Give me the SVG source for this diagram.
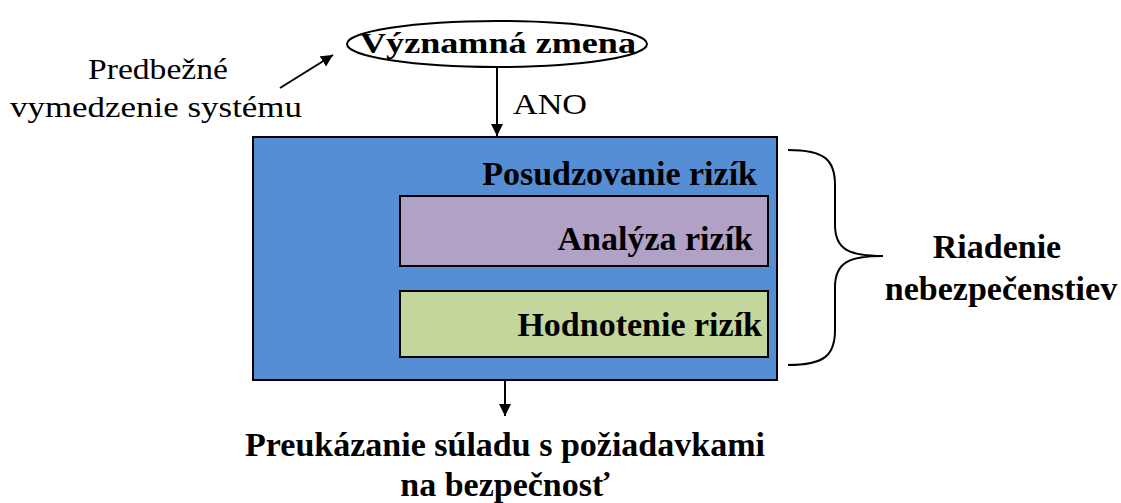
<svg xmlns="http://www.w3.org/2000/svg" width="1121" height="503" viewBox="0 0 1121 503">
<style>
text{font-family:"Liberation Serif","Times New Roman",serif;fill:#000;font-size:34px}
.b{font-weight:bold}
.r{font-size:30px}
.box{stroke:#000;stroke-width:2}
.ln{stroke:#000;stroke-width:2;fill:none}
</style>
<defs>
<marker id="ah" viewBox="0 0 10 10" refX="10" refY="5" markerWidth="6" markerHeight="6" orient="auto" markerUnits="strokeWidth">
<path d="M0,0 L10,5 L0,10 z" fill="#000"/>
</marker>
</defs>
<rect width="1121" height="503" fill="#fff"/>
<g id="connectors">
<line class="ln" x1="280" y1="88" x2="333" y2="55" marker-end="url(#ah)"/>
<line class="ln" x1="497" y1="67" x2="497" y2="136" marker-end="url(#ah)"/>
<line class="ln" x1="505" y1="381" x2="505" y2="416" marker-end="url(#ah)"/>
<path class="ln" d="M788,150 C825,150 835,160 835,185 L835,225 C835,250 850,256 883,256 C850,256 835,262 835,287 L835,330 C835,355 825,365 788,365"/>
</g>
<g id="label-predbezne">
<text class="r" x="88" y="79" textLength="140" lengthAdjust="spacingAndGlyphs">Predbežné</text>
<text class="r" x="10" y="117" textLength="292" lengthAdjust="spacingAndGlyphs">vymedzenie systému</text>
</g>
<g id="node-zmena">
<ellipse cx="497" cy="44" rx="150" ry="23" fill="#fff" stroke="#000" stroke-width="2"/>
<text class="b r" x="360" y="53" textLength="276" lengthAdjust="spacingAndGlyphs">Významná zmena</text>
</g>
<g id="label-ano">
<text class="r" x="513" y="114" textLength="74" lengthAdjust="spacingAndGlyphs">ANO</text>
</g>
<g id="node-posudzovanie">
<rect class="box" x="253" y="137" width="524" height="243" fill="#558ED5"/>
<text class="b" x="757" y="185" text-anchor="end">Posudzovanie rizík</text>
</g>
<g id="node-analyza">
<rect class="box" x="400" y="196" width="368" height="70" fill="#B2A1C7"/>
<text class="b" x="753" y="250" text-anchor="end">Analýza rizík</text>
</g>
<g id="node-hodnotenie">
<rect class="box" x="400" y="291" width="368" height="66" fill="#C3D69B"/>
<text class="b" x="762" y="336" text-anchor="end">Hodnotenie rizík</text>
</g>
<g id="label-riadenie">
<text class="b" x="997" y="258" text-anchor="middle">Riadenie</text>
<text class="b" x="1001" y="300" text-anchor="middle">nebezpečenstiev</text>
</g>
<g id="label-preukazanie">
<text class="b" x="505" y="456" text-anchor="middle">Preukázanie súladu s požiadavkami</text>
<text class="b" x="505" y="496" text-anchor="middle">na bezpečnosť</text>
</g>
</svg>
